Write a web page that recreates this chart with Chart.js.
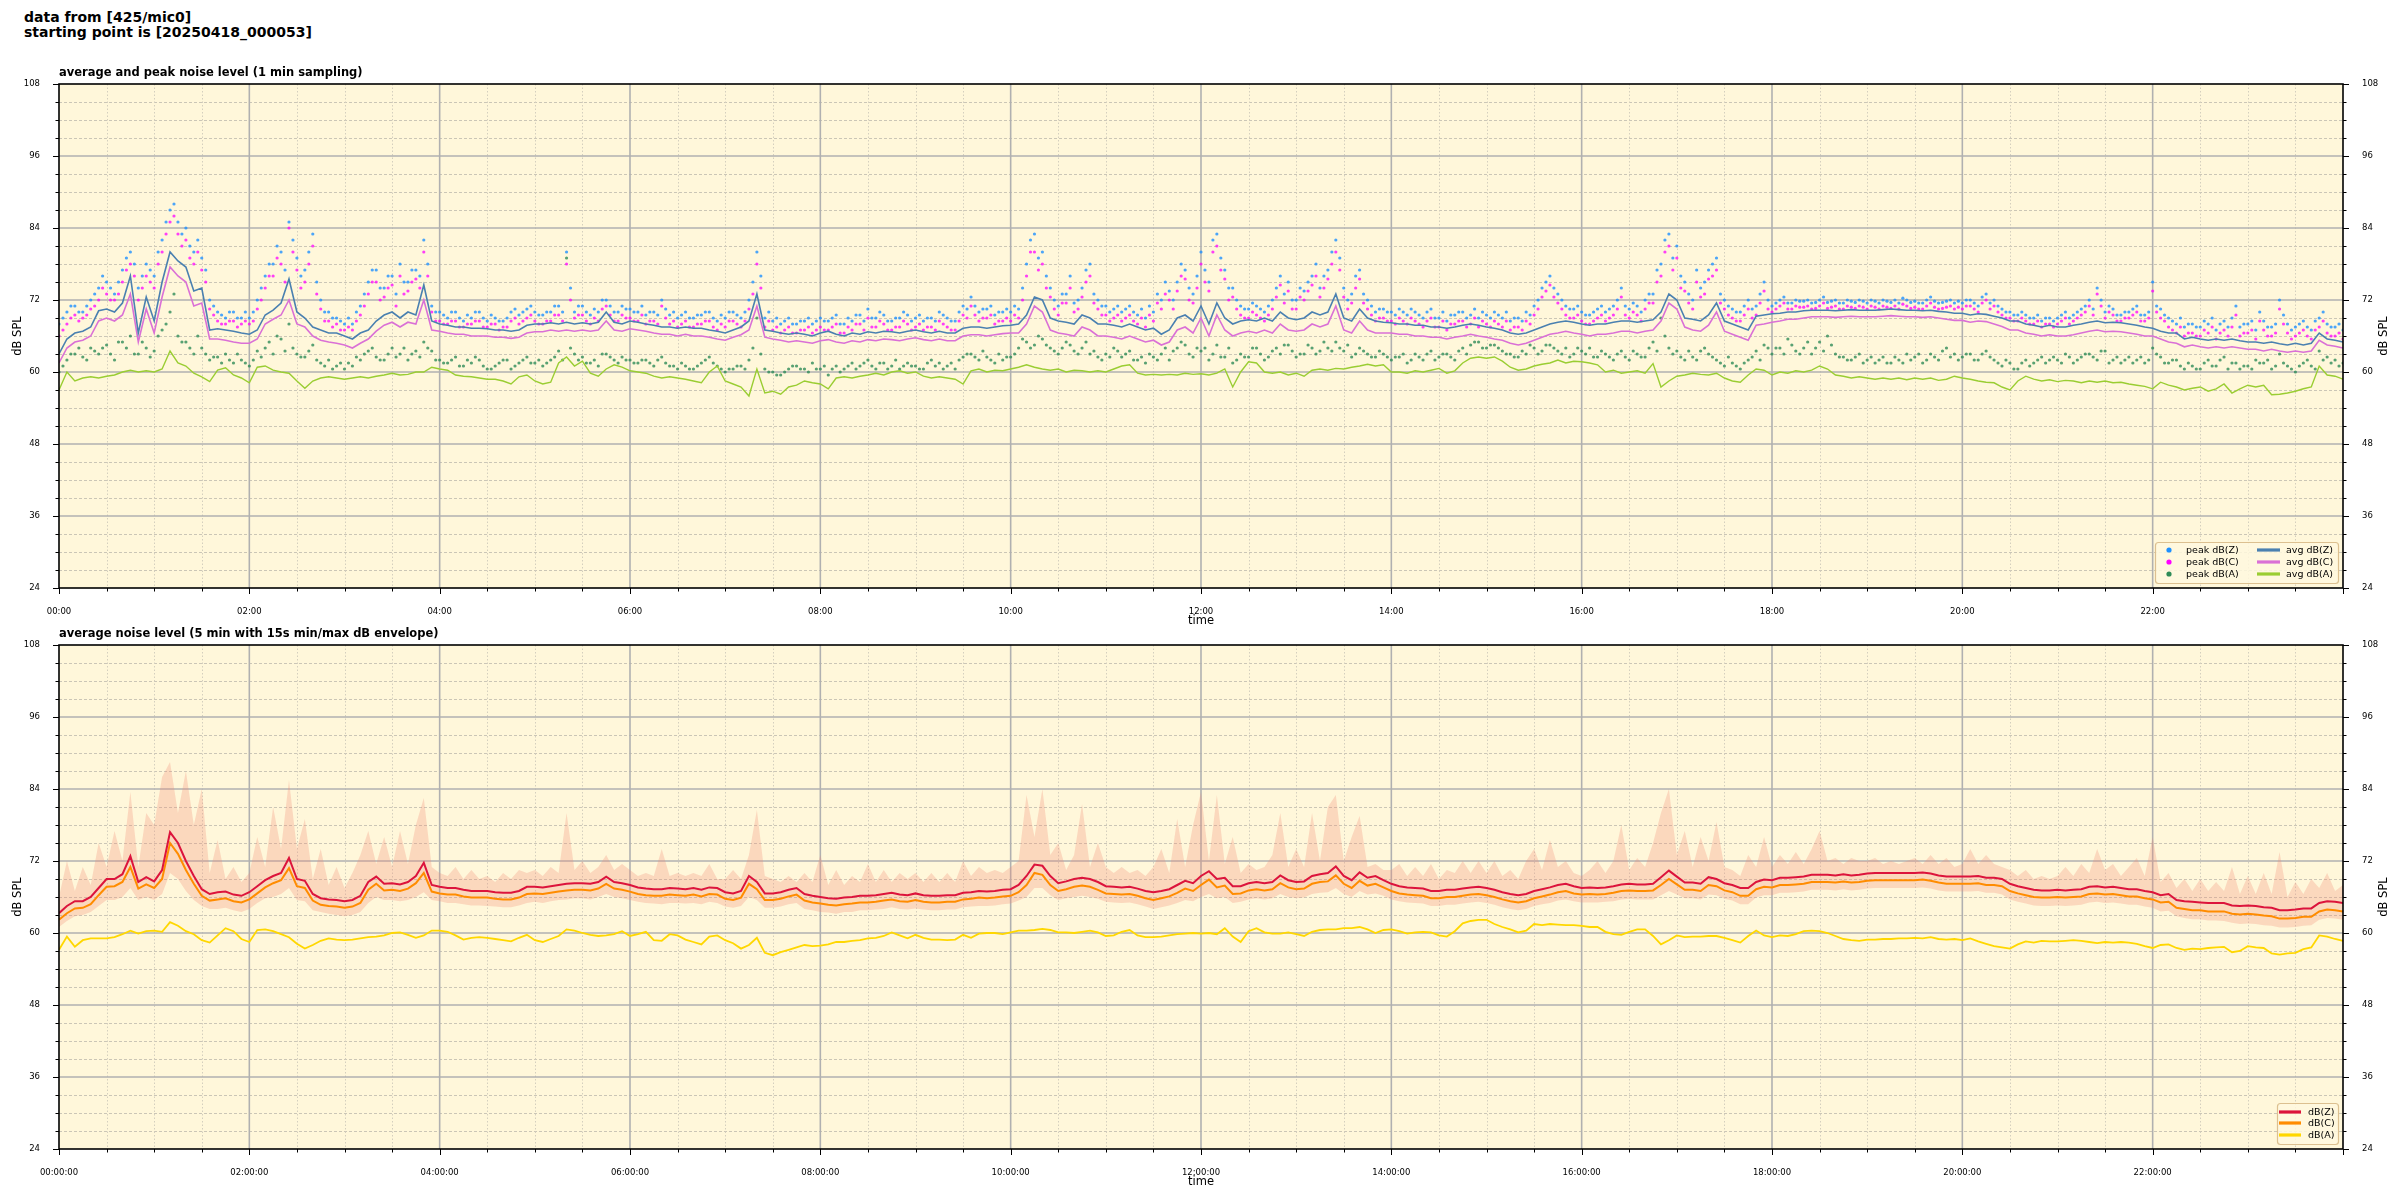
<!DOCTYPE html>
<html>
<head>
<meta charset="utf-8">
<script src="https://cdn.jsdelivr.net/npm/chart.js@4/dist/chart.umd.min.js"></script>
<style>
  body { margin: 0; background: #fff; width: 2400px; height: 1200px; position: relative; overflow: hidden; }
  #sup { position: absolute; left: 24px; top: 10px; font: bold 14px "DejaVu Sans"; line-height: 15px; color: #000; }
  canvas { position: absolute; left: 0; }
</style>
</head>
<body>
<div id="sup">data from [425/mic0]<br>starting point is [20250418_000053]</div>
<canvas id="top" width="2400" height="640" style="top:0"></canvas>
<canvas id="bot" width="2400" height="600" style="top:600px"></canvas>
<script>
// values read every 5 minutes, starting 00:00
var stepMin = 5;

// top panel: average and peak noise level (1 min sampling)
// peaks at hh:m0 ...
var peakZ = [
  68, 70, 71, 70, 72, 74, 75, 73, 77, 80, 74, 78,
  76, 82, 87, 85, 84, 80, 79, 72, 70, 69, 70, 69,
  69, 72, 76, 78, 80, 85, 79, 77, 83, 72, 70, 69,
  68, 68, 71, 75, 77, 74, 76, 78, 75, 77, 82, 71,
  70, 69, 70, 68.5, 69, 70, 68.5, 69, 68.5, 70, 69.5, 70.5,
  70, 69.5, 70, 71, 80, 70, 71, 69.5, 70, 72, 70, 71,
  70.5, 70, 69.5, 70, 72, 69.5, 69, 70, 69, 69.5, 70, 68.5,
  69, 70, 69, 72, 80, 69, 68.5, 68, 69, 68, 68.5, 68,
  69, 68.5, 69.5, 68, 68.5, 69.5, 70.5, 69, 69.5, 68.5, 69, 69.5,
  69, 68.5, 69, 70, 69, 68.5, 71, 72.5, 70, 70.5, 69.5, 70,
  70, 70.5, 78, 83, 80, 74, 71, 73, 71.5, 74, 78, 72,
  71, 70.5, 70, 71, 69.5, 69, 70, 72, 73.5, 75, 77, 73,
  80, 75, 83, 77, 74, 71, 70.5, 71, 70, 72, 76, 75,
  72, 73.5, 76, 74, 77, 82, 74, 73, 77, 72, 70, 70.5,
  70, 70.5, 69.5, 70, 69, 70.5, 69, 68.5, 69.5, 70, 69.5, 69,
  69.5, 70, 69, 68.5, 69, 70, 71, 74, 76, 73, 71, 70.5,
  70, 69.5, 70.5, 70, 71, 74, 70.5, 71, 72, 73, 78, 83,
  81, 75, 72, 74, 77, 79, 72, 70.5, 70, 72, 71, 75,
  71, 72, 71.5, 72, 71.8, 71.5, 72, 71.6, 72, 71.5, 71.8, 72,
  71.5, 71.8, 72, 71.6, 71.5, 72, 71.8, 71.5, 72.5, 71.5, 71.8, 71.5,
  71.5, 72, 71, 73, 72, 70.5, 70, 69.5, 69.5, 69, 68.5, 69,
  69, 70, 69.5, 70.5, 72, 74, 70, 70.5, 69.5, 70, 71, 69.5,
  75, 70.5, 69, 68, 67.5, 68, 67.5, 68, 67, 68.5, 69, 67.5,
  68, 67, 68.5, 67.5, 72, 68, 67.5, 68.5, 67, 69, 68, 67.5, 67
];
var peakC = [
  66, 68, 69.5, 69, 70.5, 72, 73, 72, 75, 78, 72, 76,
  74, 80, 85, 83, 82, 78, 77, 70.5, 68.5, 68, 68.5, 68,
  68, 70.5, 74, 76, 78, 84, 77, 75, 81, 70.5, 68.5, 68,
  67, 67, 69.5, 73, 75, 72.5, 74.5, 76, 73.5, 75.5, 80, 70,
  68.5, 68, 68.5, 67.5, 68, 68.5, 67.5, 68, 67.5, 68.5, 68, 69,
  68.5, 68, 68.5, 69.5, 78, 69, 69.5, 68, 68.5, 71, 68.5, 69.5,
  69, 68.5, 68, 68.5, 71, 68, 67.5, 68.5, 67.5, 68, 68.5, 67,
  67.5, 68.5, 67.5, 70.5, 78, 67.5, 67, 66.5, 67.5, 66.5, 67, 66.5,
  67.5, 67, 68, 66.5, 67, 68, 69, 67.5, 68, 67, 67.5, 68,
  67.5, 67, 67.5, 68.5, 67.5, 67, 69.5, 71, 68.5, 69, 68, 68.5,
  68.5, 69, 76, 80, 78, 72.5, 69.5, 71.5, 70, 72.5, 76, 70.5,
  69.5, 69, 68.5, 69.5, 68, 67.5, 68.5, 70.5, 72, 73.5, 75.5, 71.5,
  78, 73.5, 81, 75.5, 72.5, 69.5, 69, 69.5, 68.5, 70.5, 74.5, 73.5,
  70.5, 72, 74.5, 72.5, 75.5, 80, 72.5, 71.5, 75.5, 70.5, 68.5, 69,
  68.5, 69, 68, 68.5, 67.5, 69, 67.5, 67, 68, 68.5, 68, 67.5,
  68, 68.5, 67.5, 67, 67.5, 68.5, 69.5, 72.5, 74.5, 71.5, 69.5, 69,
  68.5, 68, 69, 68.5, 69.5, 72.5, 69, 69.5, 70.5, 71.5, 76, 81,
  79, 73.5, 70.5, 72.5, 75.5, 77, 70.5, 69, 68.5, 70.5, 69.5, 73.5,
  70, 71, 70.5, 71, 70.8, 70.5, 71, 70.6, 71, 70.5, 70.8, 71,
  70.5, 70.8, 71, 70.6, 70.5, 71, 70.8, 70.5, 71.5, 70.5, 70.8, 70.5,
  70.5, 71, 70, 72, 71, 69.5, 69, 68.5, 68.5, 68, 67.5, 68,
  68, 69, 68.5, 69.5, 71, 73, 69, 69.5, 68.5, 69, 70, 68.5,
  73.5, 69, 67.5, 66.5, 66, 66.5, 66, 66.5, 65.5, 67, 67.5, 66,
  66.5, 65.5, 67, 66, 70.5, 66.5, 66, 67, 65.5, 67.5, 66.5, 66, 65.5
];
var peakA = [
  60, 62, 63, 62.5, 64, 63, 64.5, 62, 65, 66, 63, 64,
  63.5, 67, 70, 66, 65, 63, 64, 62, 62.5, 63, 61.5, 62,
  61, 63.5, 64, 63, 65.5, 68, 63, 62.5, 64.5, 61.5, 62, 61,
  60.5, 61, 62, 63.5, 62.5, 62, 64, 63, 62, 63.5, 65, 63.5,
  62, 61.5, 62.5, 61, 61.5, 62, 60.5, 61, 62, 60.5, 61.5, 62.5,
  61.5, 61, 62, 63.5, 79, 63, 62.5, 61.5, 61, 63, 62, 62.5,
  62, 61.5, 62, 61, 62.5, 61, 60.5, 61, 60.5, 61.5, 62.5, 61,
  60, 60.5, 61, 62, 69, 60.5, 60, 59.5, 60.5, 61, 60.5, 61.5,
  60.5, 59.5, 61, 60.5, 61.5, 61, 62, 60.5, 61.5, 61, 60.5, 61.5,
  61, 60.5, 62, 61.5, 61, 60.5, 62.5, 63, 62, 62.5, 61.5, 62,
  62.5, 64, 65, 64.5, 65.5, 64, 63, 65, 63.5, 64, 63, 62.5,
  63, 64, 62.5, 63.5, 62, 61.5, 62.5, 63, 62, 64, 64.5, 62.5,
  63.5, 62, 64.5, 62.5, 61.5, 63, 62.5, 64, 62, 63.5, 63, 64.5,
  62.5, 63, 64, 63.5, 64, 65, 63.5, 62.5, 64, 63, 62.5, 63,
  62, 62.5, 61.5, 63, 62, 63.5, 62.5, 63, 62, 64, 64.5, 65,
  64, 64.5, 63.5, 63, 62.5, 63, 64, 63.5, 64.5, 63.5, 64, 63,
  63.5, 64, 62.5, 63, 62, 63.5, 62, 63, 62.5, 65, 69, 64,
  63.5, 62, 62.5, 63.5, 63, 62, 61, 61.5, 60.5, 62, 63.5, 64.5,
  63, 64, 65.5, 63.5, 64, 63, 65, 66, 63, 62.5, 62, 63,
  62, 61.5, 62.5, 61.5, 62, 63, 62.5, 61.5, 63, 62, 64, 63,
  62.5, 63, 62, 63.5, 62, 61, 61.5, 60.5, 62, 61.5, 62.5, 62,
  62, 63, 61.5, 62.5, 63, 62, 63.5, 62, 61.5, 62.5, 62, 61.5,
  64, 62.5, 61.5, 62, 60.5, 61, 60.5, 62, 61, 62.5, 61.5, 60.5,
  61, 62, 61.5, 60.5, 63, 61, 60, 61.5, 61, 63.5, 62.5, 62, 61.5
];
// ... and peaks in between (hh:m2.5)
var peakZ2 = [
  69, 71, 70, 71, 73, 76, 74, 75, 79, 78, 76, 77,
  80, 85, 88, 83, 81, 82, 77, 71, 69.5, 70, 69, 70,
  70, 74, 78, 81, 77, 82, 76, 80, 75, 70, 69, 68.5,
  69, 70, 73, 77, 74, 76, 73, 75, 77, 76, 78, 70,
  69.5, 70, 69, 69.5, 70, 69, 69.5, 68.5, 69, 70.5, 70, 71,
  69.5, 70, 71, 70, 74, 71, 70, 70.5, 72, 71, 70, 70.5,
  70, 71, 70, 69.5, 70.5, 70, 69.5, 69, 69.5, 70, 69, 69.5,
  70, 69.5, 70, 75, 76, 70, 69, 68.5, 68, 68.5, 69, 68.5,
  68.5, 69, 68, 69, 69.5, 68.5, 69, 70, 68.5, 69, 70, 68.5,
  69.5, 69, 68.5, 69.5, 68.5, 70, 70.5, 71, 70.5, 71, 70, 70.5,
  71, 74, 82, 79, 76, 72, 73, 76, 72, 77, 73, 71,
  70, 71, 70.5, 70, 70.5, 71, 73, 75, 72, 78, 74, 76,
  77, 82, 79, 74, 72, 70.5, 71.5, 70.5, 71, 74, 73, 72,
  74, 75, 78, 76, 80, 79, 72, 76, 73, 71, 70.5, 70,
  69.5, 70, 70.5, 69.5, 70, 69, 70, 69.5, 70, 69, 70.5, 70,
  69, 69.5, 70, 69, 68.5, 69.5, 72, 75, 74, 72, 70.5, 71,
  69.5, 70, 71, 70.5, 72, 71, 71.5, 70, 73, 77, 82, 79,
  76, 73, 77, 75, 78, 73, 71, 70, 71, 70.5, 73, 72,
  71.5, 72.5, 71.5, 71.8, 72, 71.6, 72.5, 71.8, 71.5, 72, 71.6, 71.8,
  72, 71.5, 71.8, 72, 72.3, 71.6, 71.5, 72, 71.8, 71.6, 72, 71.8,
  72, 71.5, 72.5, 71.5, 71, 70, 69.5, 70, 69, 69.5, 69, 68.5,
  69.5, 69, 70, 71, 70.5, 72, 71, 69.5, 70, 70.5, 69.5, 70,
  71, 69.5, 68.5, 69, 68, 67.5, 68.5, 69, 68, 67.5, 71, 68,
  68.5, 70, 67.5, 68, 69.5, 67, 68, 67.5, 68.5, 70, 67.5, 68
];
var peakC2 = [
  67, 69, 68.5, 69.5, 71, 74, 72, 73, 77, 76, 74, 75,
  78, 83, 86, 81, 79, 80, 75, 69.5, 68, 68.5, 67.5, 68.5,
  68.5, 72, 76, 79, 75, 80, 74, 78, 73, 68.5, 67.5, 67,
  67.5, 68.5, 71, 75, 72, 74, 71, 73, 75, 74, 76, 68.5,
  68, 68.5, 67.5, 68, 68.5, 67.5, 68, 67, 67.5, 69, 68.5, 69.5,
  68, 68.5, 69.5, 68.5, 72, 69.5, 68.5, 69, 70.5, 69.5, 68.5, 69,
  68.5, 69.5, 68.5, 68, 69, 68.5, 68, 67.5, 68, 68.5, 67.5, 68,
  68.5, 68, 68.5, 73, 74, 68.5, 67.5, 67, 66.5, 67, 67.5, 67,
  67, 67.5, 66.5, 67.5, 68, 67, 67.5, 68.5, 67, 67.5, 68.5, 67,
  68, 67.5, 67, 68, 67, 68.5, 69, 69.5, 69, 69.5, 68.5, 69,
  69.5, 72, 80, 77, 74, 70.5, 71.5, 74, 70.5, 75, 71.5, 69.5,
  68.5, 69.5, 69, 68.5, 69, 69.5, 71.5, 73, 70.5, 76, 72, 74,
  75, 80, 77, 72, 70.5, 69, 70, 69, 69.5, 72.5, 71.5, 70.5,
  72.5, 73.5, 76, 74, 78, 77, 70.5, 74, 71.5, 69.5, 69, 68.5,
  68, 68.5, 69, 68, 68.5, 67.5, 68.5, 68, 68.5, 67.5, 69, 68.5,
  67.5, 68, 68.5, 67.5, 67, 68, 70.5, 73.5, 72.5, 70.5, 69, 69.5,
  68, 68.5, 69.5, 69, 70.5, 69.5, 70, 68.5, 71.5, 75, 80, 77,
  74, 71.5, 75, 73, 76, 71.5, 69.5, 68.5, 69.5, 69, 71.5, 70.5,
  70.5, 71.5, 70.5, 70.8, 71, 70.6, 71.5, 70.8, 70.5, 71, 70.6, 70.8,
  71, 70.5, 70.8, 71, 71.3, 70.6, 70.5, 71, 70.8, 70.6, 71, 70.8,
  71, 70.5, 71.5, 70.5, 70, 69, 68.5, 69, 68, 68.5, 68, 67.5,
  68.5, 68, 69, 70, 69.5, 71, 70, 68.5, 69, 69.5, 68.5, 69,
  70, 68.5, 67, 67.5, 66.5, 66, 67, 67.5, 66.5, 66, 69.5, 66.5,
  67, 68.5, 66, 66.5, 68, 65.5, 66.5, 66, 67, 68.5, 66, 66.5
];
var peakA2 = [
  61, 63, 64, 62, 63.5, 64, 63, 65, 64, 63, 65, 62.5,
  66, 68, 73, 65, 64, 66, 63, 62.5, 61.5, 62, 63, 61.5,
  62, 62.5, 65, 66, 63.5, 64, 62.5, 63.5, 62, 61, 60.5, 61.5,
  61.5, 62.5, 63, 64, 62, 63, 62.5, 64, 63, 62.5, 64, 62,
  61.5, 62, 61, 62, 62.5, 61, 60.5, 61.5, 62, 61, 62, 61.5,
  62, 61.5, 62.5, 62, 64, 62, 61.5, 62, 63, 62.5, 61.5, 62,
  61.5, 62, 61.5, 62, 61.5, 61, 61.5, 60.5, 61, 62, 61.5, 60.5,
  60.5, 61, 60.5, 64, 63, 60, 59.5, 60, 61, 60.5, 60, 60.5,
  61, 60.5, 60, 61, 60.5, 61.5, 61, 61.5, 60.5, 62, 61, 61,
  60.5, 61.5, 61, 60.5, 61.5, 62, 63, 62.5, 63.5, 62, 63, 62.5,
  63, 65.5, 64, 66, 64.5, 63.5, 64, 64.5, 63, 65, 63.5, 62,
  62.5, 63.5, 63, 62, 62.5, 63, 62, 64, 63.5, 65, 63, 64,
  64, 63, 62.5, 64, 62, 62.5, 64, 63, 62.5, 64, 64.5, 63.5,
  63, 64.5, 63, 65, 63.5, 64, 64.5, 63, 63.5, 62.5, 63.5, 62.5,
  62.5, 63, 62, 62.5, 63, 62, 63, 62.5, 63.5, 63, 65, 64,
  64.5, 64, 63, 62.5, 63.5, 64.5, 63, 64.5, 64, 63, 62.5, 64,
  63, 62.5, 63.5, 62.5, 63, 62.5, 63.5, 62.5, 64, 63.5, 66, 63,
  62.5, 63.5, 62, 64, 62.5, 61.5, 62.5, 61, 61.5, 62.5, 62, 64,
  64, 63, 64.5, 63, 65, 64, 63.5, 64.5, 62.5, 62, 62.5, 61.5,
  62.5, 62, 61.5, 62.5, 61.5, 62, 63, 62, 62.5, 63.5, 62.5, 62,
  63, 62, 63, 62.5, 61.5, 62, 60.5, 61.5, 61, 62, 61.5, 62.5,
  61.5, 62.5, 62, 63, 62.5, 63.5, 61.5, 62.5, 62, 61.5, 62.5, 62,
  63, 61.5, 62, 61, 61.5, 60.5, 61.5, 61, 62, 60.5, 61.5, 61,
  60.5, 61.5, 62, 61, 61.5, 60.5, 61, 62, 60.5, 62, 61.5, 61
];
var avgZ = [
  63, 65.5, 66.5, 66.8, 67.5, 70.2, 70.5, 70, 71.5, 76, 66.5, 72.5,
  68.5, 75, 80, 78.5, 77.5, 73.5, 74, 67, 67.2, 67, 66.8, 66.5,
  66.3, 67, 69.5, 70.3, 71.5, 75.5, 70, 69, 67.5, 67, 66.5, 66.5,
  66, 65.5, 66.5, 67, 68.5, 69.5, 70, 69, 70, 69.5, 74.5, 68.5,
  68, 67.8, 67.5, 67.5, 67.3, 67.3, 67.2, 67, 67, 66.8, 67, 67.8,
  68, 68, 68.2, 68, 68.3, 68, 68.2, 68, 68.3, 70, 68.3, 68,
  68.5, 68.3, 68, 67.8, 67.5, 67.5, 67.3, 67.5, 67.3, 67.3, 67, 66.8,
  66.5, 67, 67.5, 68.5, 73, 67, 66.8, 66.5, 66.3, 66.5, 66.3, 66,
  66.5, 66.8, 66.3, 66, 66.5, 66.3, 66.7, 66.5, 66.8, 66.7, 66.5, 66.8,
  67, 66.7, 66.5, 66.8, 66.5, 66.5, 67.3, 67.5, 67.5, 67.3, 67.5, 67.7,
  67.8, 68, 69.5, 72.5, 72, 69, 68.5, 68.3, 68, 69.5, 69, 68,
  68, 67.8, 67.5, 68, 67.5, 67, 67.3, 66.3, 67, 69, 69.5, 68.5,
  71, 68, 71.5, 69, 68, 68.5, 68.7, 68.5, 69, 68.5, 70, 69,
  68.7, 69, 70, 69.5, 70, 73, 69, 68.5, 70.5, 69, 68.5, 68.3,
  68.2, 68, 68, 67.8, 67.8, 67.5, 67.5, 67.3, 67.5, 67.8, 68, 67.8,
  67.5, 67.3, 67, 66.5, 66.3, 66.5, 67, 67.5, 68, 68.3, 68.5, 68.3,
  68, 67.8, 68, 68, 68.3, 68.5, 68.5, 68.3, 68.5, 68.7, 70, 73,
  72, 69, 68.8, 68.5, 69.5, 71.5, 68.5, 68, 67.5, 67, 69.3, 69.5,
  69.7, 69.8, 70, 70, 70.2, 70.3, 70.3, 70.3, 70.2, 70.3, 70.4, 70.3,
  70.3, 70.3, 70.4, 70.5, 70.4, 70.3, 70.3, 70.2, 70.3, 70.1, 70, 69.8,
  69.8, 69.5, 69.7, 69.6, 69.3, 69, 68.5, 68.5, 68, 67.8, 67.5, 67.8,
  67.5, 67.5, 67.8, 68, 68.3, 68.5, 68.2, 68.3, 68.2, 68, 67.8, 67.5,
  67.3, 66.8, 66.5, 66.5, 65.5, 65.8, 65.5, 65.3, 65.5, 65.3, 65.5, 65.2,
  65, 65, 64.8, 65, 64.7, 64.5, 64.8, 64.5, 64.8, 66.5, 65.5, 65.3, 65
];
var avgC = [
  61.5, 64, 65, 65.3, 66, 68.5, 69, 68.5, 69.5, 73, 65, 70.5,
  66.5, 72.5, 77.5, 76, 75, 71, 71.5, 65.5, 65.5, 65.3, 65, 64.8,
  64.8, 65.5, 68, 68.8, 69.5, 72, 68, 67.5, 66, 65.3, 65, 64.8,
  64.5, 64, 64.8, 65.5, 66.8, 67.8, 68.3, 67.5, 68.3, 68, 72, 67,
  66.8, 66.5, 66.3, 66.3, 66, 66, 66, 65.8, 65.8, 65.6, 65.8, 66.5,
  66.7, 66.7, 67, 66.8, 67, 66.8, 67, 66.8, 67, 68.5, 67, 66.8,
  67.2, 67, 66.8, 66.5, 66.3, 66.3, 66, 66.3, 66, 66, 65.8, 65.5,
  65.3, 65.8, 66.2, 67, 71, 65.8, 65.5, 65.3, 65, 65.2, 65, 64.8,
  65.2, 65.4, 65, 64.8, 65.2, 65, 65.4, 65.2, 65.5, 65.4, 65.2, 65.5,
  65.7, 65.4, 65.2, 65.5, 65.2, 65.2, 66, 66.2, 66.2, 66, 66.2, 66.4,
  66.5, 66.5, 68, 71, 70, 67, 66.5, 66.3, 66, 67.5, 67, 66,
  66, 65.8, 65.5, 66, 65.5, 65, 65.3, 64.5, 65, 67, 67.5, 66.5,
  69, 66, 69.5, 67, 66, 66.5, 66.8, 66.5, 67, 66.5, 68, 67,
  66.8, 67, 68, 67.5, 68, 71, 67, 66.5, 68.5, 67, 66.5, 66.5,
  66.5, 66.3, 66.3, 66, 66, 65.8, 65.8, 65.5, 65.8, 66, 66.3, 66,
  65.8, 65.5, 65.3, 64.8, 64.5, 64.8, 65.3, 65.8, 66.3, 66.5, 66.8, 66.5,
  66.3, 66, 66.3, 66.3, 66.5, 66.8, 66.8, 66.5, 66.8, 67, 68.5, 71.5,
  70.5, 67.5, 67, 66.8, 67.8, 70, 66.8, 66.3, 65.8, 65.3, 67.8, 68,
  68.3, 68.5, 68.8, 68.8, 69, 69.2, 69.2, 69.2, 69.1, 69.2, 69.3, 69.2,
  69.2, 69.2, 69.3, 69.4, 69.3, 69.2, 69.2, 69.1, 69.2, 69, 68.8, 68.6,
  68.6, 68.3, 68.5, 68.4, 68, 67.6, 67, 67, 66.5, 66.3, 66, 66.2,
  66, 66, 66.2, 66.5, 66.8, 67, 66.7, 66.8, 66.7, 66.5, 66.3, 66,
  66, 65.5, 65, 64.8, 64.2, 64.5, 64.2, 64, 64.2, 64, 64.2, 64,
  63.8, 63.8, 63.5, 63.8, 63.5, 63.3, 63.5, 63.3, 63.5, 65.3, 64.5, 64.3, 64
];
var avgA = [
  57, 60, 58.5, 59, 59.2, 59, 59.3, 59.5, 60, 60.3, 60, 60.2,
  60, 60.5, 63.5, 61.5, 61, 59.8, 59.2, 58.4, 60.3, 60.7, 59.5, 59,
  58.2, 60.8, 61, 60.3, 60, 59.8, 58.5, 57.3, 58.5, 59, 59.2, 59,
  58.8, 59, 59.2, 59, 59.3, 59.5, 59.8, 59.5, 59.6, 60, 60, 60.8,
  60.5, 60.3, 59.5, 59.3, 59.2, 59, 58.8, 58.8, 58.5, 58, 59.2, 59.5,
  58.5, 58, 58.3, 61.5, 62.5, 61, 61.8, 59.8, 59.3, 60.5, 61.2, 60.8,
  60.2, 60, 59.8, 59.3, 59, 59.2, 59, 58.8, 58.5, 58.2, 60, 61,
  58.5, 58, 57.5, 56, 60.5, 56.5, 56.8, 56.3, 57.5, 57.8, 58.5, 58.2,
  58, 57.2, 59, 59.2, 59, 59.3, 59.5, 59.8, 59.5, 60, 60.2, 59.8,
  60, 59.3, 59, 59.2, 59, 58.8, 58, 60.2, 60.5, 60, 60.3, 60.2,
  60.5, 60.8, 61.2, 60.8, 60.5, 60.3, 60.5, 60, 60.3, 60.2, 60, 60.2,
  60, 60.5, 61, 61.2, 59.8, 59.5, 59.6, 59.5, 59.6, 59.5, 59.8, 59.6,
  59.7, 59.5, 59.8, 60.5, 57.5, 60, 61.7, 61.5, 60, 59.8, 60, 59.5,
  59.8, 59.3, 60.3, 60.5, 60.3, 60.6, 60.5, 60.8, 61, 61.3, 61, 61.2,
  60, 60, 59.8, 60.2, 60, 60.3, 60.6, 59.8, 60.2, 61.5, 62.3, 62.5,
  62.3, 62.5, 61.8, 60.8, 60.3, 60.5, 61, 61.3, 61.5, 62, 61.5, 61.8,
  61.7, 61.5, 61.2, 60, 60.3, 59.8, 60, 60.2, 59.8, 61.4, 57.5, 58.5,
  59.3, 59.5, 59.8, 59.6, 59.5, 59.8, 59, 58.5, 58.3, 59.5, 60.5, 60.3,
  59.5, 60, 59.8, 60.2, 60, 60.3, 61, 60.5, 59.5, 59.3, 59, 59.2,
  59, 58.8, 59, 58.8, 59, 58.7, 59, 58.8, 59, 58.6, 58.8, 59.3,
  59, 58.8, 58.5, 58.3, 58.2, 57.5, 57, 58.5, 59.3, 58.8, 58.5, 58.7,
  58.4, 58.6, 58.5, 58.2, 58.5, 58.3, 58.5, 58.2, 58.3, 58, 57.8, 57.6,
  57.2, 58.3, 57.8, 57.5, 57, 57.3, 57.5, 56.8, 57.2, 58, 56.5, 57.2,
  57.8, 57.5, 57.8, 56.2, 56.3, 56.5, 56.8, 57.2, 57.5, 61, 59.5, 59.3, 58.8
];

// bottom panel: average noise level (5 min) with 15s min/max envelope
var dbZ = [
  63.3, 64.5, 65.3, 65.3, 66, 67.5, 69, 69, 69.8, 72.8, 68.5, 69.3,
  68.6, 70.5, 76.8, 75, 72, 69.5, 67.3, 66.5, 66.8, 66.9, 66.4, 66.2,
  66.8, 67.8, 68.8, 69.5, 70, 72.5, 69, 68.7, 66.5, 65.8, 65.6, 65.5,
  65.3, 65.5, 66.2, 68.5, 69.4, 68.2, 68.3, 68.1, 68.5, 69.5, 71.7, 68,
  67.7, 67.5, 67.5, 67.2, 67, 67, 67, 66.8, 66.7, 66.7, 67, 67.7,
  67.7, 67.6, 67.8, 68, 68.2, 68.3, 68.3, 68.2, 68.5, 69.4, 68.5, 68.3,
  68, 67.6, 67.4, 67.3, 67.3, 67.5, 67.4, 67.3, 67.5, 67.2, 67.6, 67.5,
  66.8, 66.6, 67, 69.5, 68.5, 66.6, 66.6, 66.8, 67.2, 67.5, 66.5, 66.2,
  66, 65.8, 65.7, 65.9, 66, 66.2, 66.2, 66.3, 66.5, 66.7, 66.4, 66.3,
  66.6, 66.3, 66.2, 66.2, 66.3, 66.3, 66.7, 66.8, 67, 66.9, 67, 67.2,
  67.3, 68, 69.5, 71.4, 71.2, 69.5, 68.3, 68.6, 69, 69.2, 69, 68.5,
  67.8, 67.7, 67.6, 67.7, 67.4, 67, 66.8, 67, 67.3, 68, 68.7, 68.3,
  69.5, 70.3, 69, 69.2, 67.8, 67.8, 68.3, 68.5, 68.3, 68.5, 69.6, 68.8,
  68.5, 68.6, 69.5, 69.8, 70, 71.1, 69.5, 68.8, 70.1, 69.2, 69.5, 68.8,
  68.2, 67.8, 67.6, 67.5, 67.4, 67, 67, 67.2, 67.2, 67.4, 67.6, 67.7,
  67.5, 67.2, 66.8, 66.5, 66.3, 66.5, 67, 67.3, 67.6, 68, 68.2, 67.8,
  67.5, 67.6, 67.5, 67.6, 67.8, 68.1, 68.2, 68.1, 68.1, 68.2, 69.3, 70.4,
  69.4, 68.4, 68.4, 68.2, 69.3, 69, 68.3, 68, 67.5, 67.5, 68.5, 68.9,
  68.8, 69.2, 69.2, 69.3, 69.4, 69.7, 69.7, 69.7, 69.6, 69.8, 69.6, 69.7,
  69.9, 70, 70, 70, 70, 70, 70, 70.1, 69.9, 69.6, 69.4, 69.4,
  69.4, 69.4, 69.5, 69.2, 69.2, 69, 68.2, 67.8, 67.5, 67.2, 67.1, 67.1,
  67.2, 67.1, 67.2, 67.3, 67.7, 67.8, 67.6, 67.7, 67.5, 67.3, 67.3, 67,
  66.8, 66.3, 66.5, 65.5, 65.3, 65.2, 65.1, 65, 65, 65, 64.6, 64.5,
  64.6, 64.5, 64.3, 64.2, 63.8, 63.8, 63.9, 64.1, 64.1, 65, 65.3, 65.2, 65
];
var dbC = [
  62.2, 63.3, 64.1, 64.2, 64.8, 66.3, 67.7, 67.8, 68.5, 71, 67.4, 68.1,
  67.5, 69, 75, 73.2, 70.5, 68.2, 66.2, 65.4, 65.6, 65.8, 65.3, 65.1,
  65.6, 66.6, 67.6, 68.3, 68.8, 70.8, 67.8, 67.5, 65.4, 64.7, 64.5, 64.4,
  64.2, 64.4, 65, 67.2, 68.2, 67.1, 67.2, 67, 67.4, 68.3, 70, 66.9,
  66.6, 66.4, 66.4, 66.1, 65.9, 65.9, 65.9, 65.7, 65.6, 65.6, 65.9, 66.5,
  66.6, 66.5, 66.7, 66.9, 67.1, 67.2, 67.2, 67.1, 67.4, 68.2, 67.4, 67.2,
  66.9, 66.5, 66.3, 66.2, 66.2, 66.4, 66.3, 66.2, 66.4, 66.1, 66.5, 66.4,
  65.7, 65.5, 65.9, 68.2, 67.3, 65.5, 65.5, 65.7, 66.1, 66.4, 65.4, 65.1,
  64.9, 64.7, 64.6, 64.8, 64.9, 65.1, 65.1, 65.2, 65.4, 65.6, 65.3, 65.2,
  65.5, 65.2, 65.1, 65.1, 65.2, 65.2, 65.6, 65.7, 65.9, 65.8, 65.9, 66.1,
  66.2, 66.8, 68, 70, 69.7, 68, 67, 67.3, 67.7, 67.9, 67.7, 67.2,
  66.6, 66.5, 66.4, 66.5, 66.2, 65.8, 65.5, 65.8, 66.1, 66.7, 67.4, 67,
  68, 68.9, 67.6, 67.9, 66.5, 66.6, 67.1, 67.3, 67.1, 67.3, 68.3, 67.6,
  67.3, 67.4, 68.2, 68.5, 68.6, 69.6, 68.2, 67.5, 68.7, 67.9, 68.2, 67.6,
  67, 66.6, 66.4, 66.3, 66.2, 65.8, 65.8, 66, 66, 66.2, 66.4, 66.5,
  66.3, 66, 65.6, 65.3, 65.1, 65.3, 65.8, 66.1, 66.4, 66.8, 67, 66.6,
  66.4, 66.5, 66.4, 66.5, 66.7, 67, 67.1, 67, 67, 67.1, 68, 69,
  68.1, 67.2, 67.2, 67, 68, 67.8, 67.1, 66.8, 66.2, 66.2, 67.3, 67.7,
  67.6, 68, 68, 68.1, 68.2, 68.5, 68.5, 68.5, 68.4, 68.6, 68.4, 68.5,
  68.7, 68.8, 68.8, 68.8, 68.8, 68.8, 68.8, 68.9, 68.7, 68.4, 68.2, 68.2,
  68.2, 68.2, 68.3, 68, 68, 67.8, 67, 66.6, 66.3, 66, 65.9, 65.9,
  66, 65.9, 66, 66.1, 66.5, 66.6, 66.4, 66.5, 66.3, 66.1, 66.1, 65.8,
  65.6, 65.1, 65.2, 64.2, 64, 63.8, 63.8, 63.6, 63.6, 63.6, 63.2, 63.1,
  63.2, 63.1, 62.9, 62.8, 62.4, 62.4, 62.5, 62.7, 62.7, 63.6, 63.9, 63.8, 63.6
];
var dbA = [
  57.2, 59.4, 57.7, 58.8, 59.1, 59.1, 59.1, 59.3, 59.8, 60.4, 59.9, 60.3,
  60.4, 60.2, 61.8, 61.2, 60.3, 59.8, 58.8, 58.4, 59.6, 60.8, 60.3, 59,
  58.5, 60.5, 60.6, 60.3, 59.8, 59.3, 58.2, 57.4, 58, 58.7, 59.1, 58.9,
  58.8, 58.9, 59.1, 59.3, 59.4, 59.6, 60, 60.1, 59.7, 59.2, 59.6, 60.4,
  60.4, 60.2, 59.6, 58.9, 59.2, 59.3, 59.2, 59, 58.8, 58.6, 59.2, 59.7,
  58.8, 58.5, 59, 59.5, 60.6, 60.4, 60, 59.7, 59.5, 59.6, 59.8, 60.3,
  59.5, 59.8, 60.2, 58.8, 58.7, 59.8, 59.6, 58.9, 58.5, 58.1, 59.4, 59.6,
  58.8, 58.3, 57.4, 58, 59.2, 56.7, 56.3, 56.8, 57.2, 57.6, 58, 57.8,
  57.9, 58.1, 58.5, 58.5, 58.7, 58.8, 59.1, 59.2, 59.5, 60.1, 59.6, 59.1,
  59.7, 59.2, 58.9, 58.9, 58.8, 58.9, 59.7, 59.2, 59.9, 60, 60, 59.8,
  60.1, 60.4, 60.4, 60.5, 60.7, 60.5, 60.1, 60.1, 60, 60.2, 60.4, 60.1,
  59.5, 59.6, 60.2, 60.5, 59.6, 59.3, 59.3, 59.4, 59.6, 59.8, 59.9, 60,
  59.9, 60, 59.8, 60.8, 59.4, 58.5, 60.3, 60.8, 60.1, 59.9, 59.9, 60.1,
  59.8, 59.5, 60.2, 60.5, 60.6, 60.6, 60.8, 60.8, 61, 60.6, 60, 60.5,
  60.6, 60.3, 59.9, 60.1, 60.2, 60.1, 59.6, 59.4, 60.3, 61.6, 62, 62.2,
  62.2, 61.5, 61, 60.6, 60.1, 60.4, 61.5, 61.3, 61.5, 61.4, 61.3, 61.3,
  61.2, 61, 61, 60.2, 59.8, 59.7, 60.2, 60.6, 60.6, 59.5, 58.1, 58.8,
  59.6, 59.3, 59.4, 59.4, 59.5, 59.5, 59.2, 58.8, 58.4, 59.5, 60.4, 59.6,
  59.3, 59.6, 59.5, 59.8, 60.3, 60.4, 60.3, 60, 59.5, 59, 58.8, 58.7,
  58.9, 58.9, 59, 59, 59.1, 59.1, 59.2, 59.1, 59.3, 59, 58.9, 59,
  58.8, 59.1, 58.6, 58.2, 57.8, 57.6, 57.4, 58.1, 58.6, 58.4, 58.7, 58.6,
  58.6, 58.7, 58.8, 58.7, 58.5, 58.3, 58.5, 58.4, 58.5, 58.4, 58.2, 57.8,
  57.5, 58, 58.1, 57.5, 57.2, 57.4, 57.3, 57.5, 57.6, 57.7, 56.8, 57,
  57.8, 57.6, 57.5, 56.6, 56.4, 56.6, 56.7, 57.3, 57.6, 59.6, 59.4, 59, 58.7
];
var envMax = [
  66, 72, 67, 71, 68, 75, 71, 77, 72, 83.5, 71, 80,
  78, 86, 88.5, 80, 87, 78, 84, 70, 75.5, 69, 71, 68.5,
  70, 76, 71, 81, 74, 85.5, 74, 79, 69, 74, 68, 71,
  67.5, 70, 73, 77, 71.5, 76, 71, 77, 71.5, 78, 82.5, 71,
  70, 69.5, 71, 69, 70.5, 69, 69.5, 68.5, 70, 69, 70.5, 70,
  70.5, 69.5, 71, 70, 80, 70.5, 72, 70, 71, 73, 70.5, 71.5,
  70.5, 69.5, 70, 69.5, 74, 69.5, 70, 69.5, 70, 69.5, 71.5, 69,
  69, 70.5, 69, 73, 80.5, 69.5, 69, 68.5, 69.5, 68.5, 70, 68.5,
  73, 68, 70.5, 68, 69.5, 68.5, 71.5, 68.5, 70.5, 68.5, 70, 69,
  70, 68.5, 70, 68.5, 70, 68.5, 72, 69.5, 71, 70, 70.5, 70,
  71, 72, 83, 76, 84, 73, 75, 70.5, 73, 81.5, 71, 75,
  71, 70, 71, 70, 70.5, 69.5, 71, 74, 70, 79, 71, 78,
  83.5, 72, 83, 71.5, 76, 70, 71.5, 70.5, 71, 73, 80, 71,
  74, 71, 80, 72, 81, 83, 72, 76, 79.5, 71, 71.5, 70.5,
  70.5, 71.5, 69.5, 71, 69.5, 71.5, 69, 70.5, 70, 72, 70, 72,
  70, 72, 69.5, 70.5, 69, 72, 74, 70.5, 75.5, 71, 72, 70,
  69.5, 70.5, 72, 70, 72, 78, 70.5, 72.5, 71, 75, 80, 84,
  73, 77, 71, 76, 72, 78.5, 71, 70.5, 69.5, 73, 71, 76,
  71, 73, 71.5, 73.5, 71.5, 74, 77, 72, 72.5, 71.5, 72.5, 72,
  72, 72.5, 71.5, 72, 71.5, 72, 72.5, 71.5, 73, 71.5, 72.5, 71,
  71.5, 74, 71.5, 73, 71.5, 71, 70.5, 69.5, 70.5, 69, 69.5, 69,
  69.5, 71, 69.5, 71.5, 70, 74, 70.5, 71.5, 69.5, 71, 72.5, 69.5,
  76, 68.5, 70, 67.5, 69, 67, 69, 67, 68.5, 67, 71, 66.5,
  69.5, 66.5, 70, 66.5, 73.5, 66, 68.5, 66.5, 69, 67.5, 70, 67, 68
];
var envMin = [
  61, 62, 62.8, 63, 63.5, 64.5, 65.5, 65.5, 66, 67.5, 65.5, 66,
  65.5, 66.5, 70, 69, 67, 65.5, 64.5, 64, 64, 64.2, 63.8, 63.5,
  64, 65, 65.8, 66, 66.5, 67.5, 65.5, 65.3, 63.8, 63.5, 63.2, 63,
  62.8, 63, 63.5, 65, 66, 65.5, 65.5, 65.3, 65.5, 66, 66.8, 65.5,
  65.3, 65, 65, 64.8, 64.6, 64.6, 64.5, 64.4, 64.3, 64.3, 64.6, 65,
  65.2, 65, 65.3, 65.5, 65.6, 65.8, 65.8, 65.6, 66, 66.5, 66, 65.8,
  65.5, 65.2, 65, 64.9, 64.8, 65, 65, 64.9, 65, 64.8, 65.2, 65,
  64.4, 64.2, 64.5, 66, 65.5, 64.2, 64.2, 64.4, 64.8, 65, 64, 63.8,
  63.5, 63.4, 63.2, 63.5, 63.5, 63.8, 63.8, 63.9, 64, 64.3, 64, 63.9,
  64.1, 63.9, 63.8, 63.8, 63.9, 63.9, 64.3, 64.4, 64.5, 64.5, 64.6, 64.8,
  64.9, 65.4, 66, 67.5, 67.5, 66.3, 65.5, 65.8, 66, 66.2, 66, 65.7,
  65.2, 65.1, 65, 65.1, 64.8, 64.4, 64, 64.3, 64.6, 65, 65.5, 65.3,
  66, 66.5, 65.8, 66, 65, 65.2, 65.6, 65.8, 65.6, 65.8, 66.5, 66,
  65.8, 65.9, 66.5, 66.7, 66.8, 67.5, 66.5, 66, 67, 66.4, 66.6, 66.2,
  65.6, 65.3, 65.1, 65, 64.9, 64.5, 64.5, 64.7, 64.7, 64.9, 65.1, 65.2,
  65, 64.7, 64.3, 64, 63.8, 64, 64.5, 64.8, 65, 65.4, 65.6, 65.3,
  65.1, 65.1, 65.1, 65.2, 65.3, 65.6, 65.7, 65.6, 65.6, 65.6, 66.3, 67,
  66.4, 65.8, 65.8, 65.6, 66.4, 66.3, 65.7, 65.4, 64.8, 64.8, 65.9, 66.3,
  66.3, 66.7, 66.7, 66.8, 66.9, 67.2, 67.2, 67.2, 67.1, 67.3, 67.1, 67.2,
  67.4, 67.5, 67.5, 67.5, 67.5, 67.5, 67.5, 67.6, 67.4, 67.1, 66.9, 66.9,
  66.9, 66.9, 67, 66.7, 66.7, 66.4, 65.6, 65.2, 64.9, 64.6, 64.5, 64.5,
  64.6, 64.5, 64.6, 64.7, 65.1, 65.2, 65, 65.1, 64.9, 64.7, 64.7, 64.4,
  64.2, 63.6, 63.7, 62.8, 62.5, 62.3, 62.3, 62.1, 62.1, 62, 61.7, 61.5,
  61.6, 61.5, 61.3, 61.2, 60.9, 60.9, 61, 61.2, 61.3, 62.2, 62.5, 62.4, 62.2
];

var FONT = '"DejaVu Sans", "Liberation Sans", sans-serif';
Chart.defaults.font.family = FONT;
Chart.defaults.color = '#000';

function pts(arr, offMin) {
  var off = offMin || 0;
  return arr.map(function(v, i) { return { x: (i * stepMin + off) / 60, y: v }; });
}
function pad(n) { return (n < 10 ? '0' : '') + n; }

function hline(ctx, x0, x1, y) { ctx.beginPath(); ctx.moveTo(x0, y); ctx.lineTo(x1, y); ctx.stroke(); }
function vline(ctx, x, y0, y1) { ctx.beginPath(); ctx.moveTo(x, y0); ctx.lineTo(x, y1); ctx.stroke(); }

// background, grid, frame, minor ticks, titles and legend
var decor = {
  id: 'decor',
  beforeDatasetsDraw: function(chart) {
    var ctx = chart.ctx, a = chart.chartArea, xs = chart.scales.x, ys = chart.scales.y;
    var v, p;
    ctx.save();
    ctx.fillStyle = '#fff7da';
    ctx.fillRect(a.left, a.top, a.right - a.left, a.bottom - a.top);
    ctx.lineWidth = 1;
    ctx.strokeStyle = '#cbc6b6';
    ctx.setLineDash([3, 2]);
    for (v = ys.min + 3; v < ys.max; v += 3) {
      if ((v - ys.min) % 12 === 0) continue;
      p = Math.round(ys.getPixelForValue(v)) + 0.5;
      hline(ctx, a.left, a.right, p);
    }
    ctx.strokeStyle = '#d4cfbe';
    ctx.setLineDash([1.5, 2]);
    for (v = 0.5; v < xs.max; v += 0.5) {
      if (v % 2 === 0) continue;
      p = Math.round(xs.getPixelForValue(v)) + 0.5;
      vline(ctx, p, a.top, a.bottom);
    }
    ctx.setLineDash([]);
    ctx.strokeStyle = '#b0b0b0';
    ctx.lineWidth = 1.6;
    for (v = ys.min + 12; v < ys.max; v += 12) hline(ctx, a.left, a.right, ys.getPixelForValue(v));
    for (v = 2; v < xs.max; v += 2) vline(ctx, xs.getPixelForValue(v), a.top, a.bottom);
    ctx.restore();
  },
  afterDraw: function(chart, args, o) {
    var ctx = chart.ctx, a = chart.chartArea, xs = chart.scales.x, ys = chart.scales.y;
    var v, p;
    ctx.save();
    // ticks
    ctx.strokeStyle = '#000';
    ctx.lineWidth = 1;
    for (v = ys.min; v <= ys.max; v += 3) {
      var tl = (v - ys.min) % 12 === 0 ? 6 : 3.5;
      p = Math.round(ys.getPixelForValue(v)) + 0.5;
      hline(ctx, a.left - tl, a.left, p);
      hline(ctx, a.right, a.right + tl, p);
    }
    for (v = 0; v <= xs.max; v += 0.5) {
      var tx = v % 2 === 0 ? 6 : 3.5;
      p = Math.round(xs.getPixelForValue(v)) + 0.5;
      vline(ctx, p, a.bottom, a.bottom + tx);
    }
    // frame
    ctx.lineWidth = 1.6;
    ctx.strokeRect(a.left, a.top, a.right - a.left, a.bottom - a.top);
    // titles
    ctx.fillStyle = '#000';
    ctx.font = 'bold 11.5px ' + FONT;
    ctx.textAlign = 'left';
    ctx.textBaseline = 'alphabetic';
    ctx.fillText(o.title, a.left, a.top - 8.5);
    ctx.font = '11.5px ' + FONT;
    ctx.textAlign = 'center';
    ctx.textBaseline = 'middle';
    ctx.fillText('time', (a.left + a.right) / 2, a.bottom + 33);
    var cy = (a.top + a.bottom) / 2;
    [18, chart.width - 16].forEach(function(cx) {
      ctx.save();
      ctx.translate(cx, cy);
      ctx.rotate(-Math.PI / 2);
      ctx.fillText('dB SPL', 0, 0);
      ctx.restore();
    });
    // legend
    var lg = o.legend;
    var bx = a.right - 5 - lg.w, by = a.bottom - 5 - lg.h;
    ctx.beginPath();
    ctx.roundRect(bx + 0.5, by + 0.5, lg.w, lg.h, 3);
    ctx.fillStyle = 'rgba(255,248,222,0.85)';
    ctx.fill();
    ctx.strokeStyle = '#dcc090';
    ctx.lineWidth = 1.2;
    ctx.stroke();
    ctx.font = '9.5px ' + FONT;
    ctx.textAlign = 'left';
    ctx.textBaseline = 'middle';
    lg.items.forEach(function(it) {
      var col = lg.cols[it.col], ry = by + lg.rows[it.row];
      if (it.kind === 'dot') {
        ctx.fillStyle = it.color;
        ctx.beginPath();
        ctx.arc(bx + col.m0, ry, 2.6, 0, Math.PI * 2);
        ctx.fill();
      } else {
        ctx.strokeStyle = it.color;
        ctx.lineWidth = 3.2;
        hline(ctx, bx + col.m0, bx + col.m1, ry);
      }
      ctx.fillStyle = '#000';
      ctx.fillText(it.text, bx + col.tx, ry + 0.5);
    });
    ctx.restore();
  }
};

function scalesFor(fmt, xHeight) {
  var yTicks = { stepSize: 12, padding: 11, font: { size: 8.5 } };
  return {
    x: {
      type: 'linear', min: 0, max: 24,
      grid: { display: false }, border: { display: false },
      ticks: {
        stepSize: 2, autoSkip: false, maxRotation: 0, padding: 11, font: { size: 8.5 },
        callback: function(v) { return v >= 24 ? '' : fmt(v); }
      },
      afterFit: function(s) { s.height = xHeight; }
    },
    y: {
      position: 'left', min: 24, max: 108,
      grid: { display: false }, border: { display: false },
      ticks: yTicks,
      afterFit: function(s) { s.width = 59; }
    },
    y2: {
      position: 'right', min: 24, max: 108,
      grid: { display: false }, border: { display: false },
      ticks: yTicks,
      afterFit: function(s) { s.width = 57; }
    }
  };
}

function lineSet(label, data, color, width, order) {
  return { label: label, data: pts(data), borderColor: color, borderWidth: width, pointRadius: 0, fill: false, tension: 0, order: order };
}
function dotSet(label, data, off, color, order) {
  return { label: label, data: pts(data, off), showLine: false, pointRadius: 1.6, pointBorderWidth: 0, pointBackgroundColor: color, borderColor: color, order: order };
}

var common = {
  responsive: false, animation: false, devicePixelRatio: 1, events: [],
  plugins: { legend: { display: false }, tooltip: { enabled: false } }
};

var cZ = 'rgba(30,144,255,0.8)', cC = 'rgba(255,0,255,0.75)', cA = 'rgba(46,139,87,0.8)';

new Chart(document.getElementById('top'), {
  type: 'line',
  data: {
    datasets: [
      lineSet('avg dB(Z)', avgZ, '#4a80b0', 1.6, 1),
      lineSet('avg dB(C)', avgC, '#da70d6', 1.6, 2),
      lineSet('avg dB(A)', avgA, '#9acd32', 1.4, 3),
      dotSet('peak dB(Z)', peakZ, 0, cZ, 6),
      dotSet('peak dB(Z) ', peakZ2, 2.5, cZ, 6),
      dotSet('peak dB(C)', peakC, 0, cC, 5),
      dotSet('peak dB(C) ', peakC2, 2.5, cC, 5),
      dotSet('peak dB(A)', peakA, 0, cA, 4),
      dotSet('peak dB(A) ', peakA2, 2.5, cA, 4)
    ]
  },
  options: Object.assign({}, common, {
    layout: { padding: { top: 84, left: 0, right: 0, bottom: 0 } },
    scales: scalesFor(function(h) { return pad(h) + ':00'; }, 52),
    plugins: Object.assign({}, common.plugins, {
      decor: {
        title: 'average and peak noise level (1 min sampling)',
        legend: {
          w: 183, h: 41, rows: [8, 20, 32],
          cols: [{ m0: 14, m1: 14, tx: 31 }, { m0: 102, m1: 125, tx: 131 }],
          items: [
            { text: 'peak dB(Z)', color: '#1e90ff', kind: 'dot', col: 0, row: 0 },
            { text: 'peak dB(C)', color: '#ff00ff', kind: 'dot', col: 0, row: 1 },
            { text: 'peak dB(A)', color: '#2e8b57', kind: 'dot', col: 0, row: 2 },
            { text: 'avg dB(Z)', color: '#4a80b0', kind: 'line', col: 1, row: 0 },
            { text: 'avg dB(C)', color: '#da70d6', kind: 'line', col: 1, row: 1 },
            { text: 'avg dB(A)', color: '#9acd32', kind: 'line', col: 1, row: 2 }
          ]
        }
      }
    })
  }),
  plugins: [decor]
});

new Chart(document.getElementById('bot'), {
  type: 'line',
  data: {
    datasets: [
      lineSet('dB(Z)', dbZ, '#dc143c', 2, 1),
      lineSet('dB(C)', dbC, '#ff8c00', 2, 2),
      lineSet('dB(A)', dbA, '#ffd700', 1.8, 3),
      { label: 'max', data: pts(envMax), borderWidth: 0, pointRadius: 0, tension: 0,
        fill: '+1', backgroundColor: 'rgba(240,135,115,0.28)', order: 9 },
      { label: 'min', data: pts(envMin), borderWidth: 0, pointRadius: 0, tension: 0,
        fill: false, order: 10 }
    ]
  },
  options: Object.assign({}, common, {
    layout: { padding: { top: 45, left: 0, right: 0, bottom: 0 } },
    scales: scalesFor(function(h) { return pad(h) + ':00:00'; }, 51),
    plugins: Object.assign({}, common.plugins, {
      decor: {
        title: 'average noise level (5 min with 15s min/max dB envelope)',
        legend: {
          w: 61, h: 41, rows: [9, 20, 32],
          cols: [{ m0: 2, m1: 24, tx: 31 }],
          items: [
            { text: 'dB(Z)', color: '#dc143c', kind: 'line', col: 0, row: 0 },
            { text: 'dB(C)', color: '#ff8c00', kind: 'line', col: 0, row: 1 },
            { text: 'dB(A)', color: '#ffd700', kind: 'line', col: 0, row: 2 }
          ]
        }
      }
    })
  }),
  plugins: [decor]
});
</script>
</body>
</html>
